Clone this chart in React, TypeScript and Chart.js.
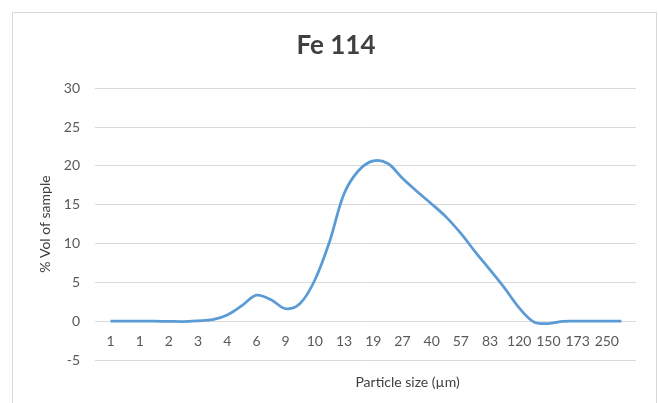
import React, { useEffect, useRef } from "react";
import { Chart, registerables } from "chart.js";

Chart.register(...registerables);

const chartTitle = "Fe 114";
const yAxisTitle = "% Vol of sample";
const xAxisTitle = "Particle size (µm)";

// Labels shown under every other size class
const tickLabels = ["1", "1", "2", "3", "4", "6", "9", "10", "13", "19", "27", "40", "57", "83", "120", "150", "173", "250"];

// % volume for each of the 36 size classes
const volPct = [
  0, 0, 0, 0, -0.03, -0.05, 0.05, 0.2, 0.8, 2.0,
  3.35, 2.75, 1.6, 2.3, 5.3, 10.2, 16.4, 19.4, 20.65, 20.3,
  18.4, 16.7, 15.1, 13.4, 11.3, 8.9, 6.6, 4.25, 1.7, -0.1,
  -0.3, -0.02, 0, 0, 0, 0,
];

const yTicks = [-5, 0, 5, 10, 15, 20, 25, 30];

const FONT = "Lato, 'Open Sans', sans-serif";

export default function App() {
  const ref = useRef<HTMLCanvasElement | null>(null);

  useEffect(() => {
    if (!ref.current) return;
    const points = volPct.map((v, i) => ({ x: i, y: v }));
    const xTitlePlugin = {
      id: "xTitleOffset",
      afterDraw(chart: any) {
        const { ctx, chartArea } = chart;
        ctx.save();
        ctx.font = `14px ${FONT}`;
        ctx.fillStyle = "#404040";
        ctx.textAlign = "center";
        ctx.textBaseline = "middle";
        const cx = (chartArea.left + chartArea.right) / 2 + 42;
        ctx.fillText(xAxisTitle, cx, chartArea.bottom + 22);
        ctx.restore();
      },
    };
    const chart = new Chart(ref.current, {
      type: "line",
      data: {
        datasets: [
          {
            data: points,
            borderColor: "#5B9BD5",
            borderWidth: 2.75,
            pointRadius: 0,
            tension: 0.35,
            fill: false,
          },
        ],
      },
      options: {
        responsive: false,
        animation: false,
        layout: { padding: { left: 36, right: 22, top: 12, bottom: 43 } },
        plugins: {
          legend: { display: false },
          tooltip: { enabled: false },
          title: {
            display: true,
            text: chartTitle,
            color: "#404040",
            font: { family: FONT, size: 26, weight: "bold" },
            padding: { top: 18, bottom: 27 },
          },
        },
        scales: {
          x: {
            type: "linear",
            position: { y: 0 } as any,
            min: -1.06,
            max: 36,
            afterBuildTicks: (scale: any) => {
              scale.ticks = tickLabels.map((_, k) => ({ value: k * 2 }));
            },
            grid: { display: false, drawTicks: false },
            border: { display: false },
            ticks: {
              autoSkip: false,
              maxRotation: 0,
              padding: 12,
              color: "#595959",
              font: { family: FONT, size: 14 },
              callback: (v: any) => tickLabels[Math.round(Number(v) / 2)] ?? "",
            },
          },
          y: {
            min: -5,
            max: 30,
            afterBuildTicks: (scale: any) => {
              scale.ticks = yTicks.map((v) => ({ value: v }));
            },
            grid: { color: "#D9D9D9", lineWidth: 1, drawTicks: false },
            border: { display: false },
            ticks: {
              padding: 15,
              color: "#595959",
              font: { family: FONT, size: 14 },
            },
            title: {
              display: true,
              text: yAxisTitle,
              color: "#404040",
              font: { family: FONT, size: 14 },
              padding: { top: 1, bottom: -5 },
            },
          },
        },
      },
      plugins: [xTitlePlugin],
    });
    return () => chart.destroy();
  }, []);

  return (
    <div style={{ position: "absolute", left: 0, top: 0, width: 658, height: 403, background: "#fff", overflow: "hidden" }}>
      <div
        style={{
          position: "absolute",
          left: 12,
          top: 12,
          width: 643,
          height: 400,
          border: "1px solid #D9D9D9",
          boxSizing: "content-box",
        }}
      />
      <canvas ref={ref} width={658} height={403} style={{ position: "absolute", left: 0, top: 0 }} />
    </div>
  );
}
